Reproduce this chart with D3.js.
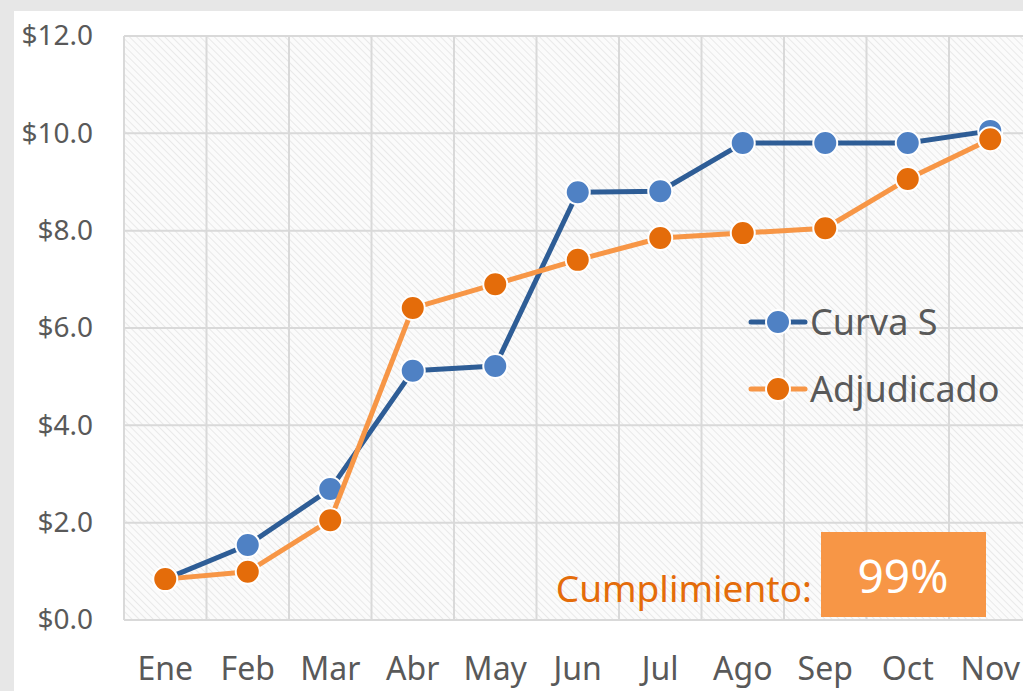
<!DOCTYPE html>
<html>
<head>
<meta charset="utf-8">
<script src="https://cdn.jsdelivr.net/npm/d3@7"></script>
<style>
  body { margin: 0; background: #e7e7e7; overflow: hidden; }
  svg { display: block; font-family: "Noto Sans", "Open Sans", sans-serif; }
</style>
</head>
<body>
<svg id="chart" width="1023" height="691"></svg>
<script>
// months
const months = ['Ene','Feb','Mar','Abr','May','Jun','Jul','Ago','Sep','Oct','Nov'];
// Curva S (planned)
const curvaS = [0.84, 1.54, 2.69, 5.12, 5.22, 8.79, 8.81, 9.80, 9.80, 9.80, 10.05];
// Adjudicado
const adjudicado = [0.84, 0.99, 2.05, 6.41, 6.90, 7.40, 7.85, 7.95, 8.05, 9.06, 9.88];
const yTicks = [0, 2, 4, 6, 8, 10, 12];
const cumplimiento = '99%';

const svg = d3.select('#chart');
const W = 1023, H = 691;
const m = {left: 124, top: 36, bottom: 620};
const right = 124 + 11 * 82.5;

// white chart area
svg.append('rect').attr('x', 14).attr('y', 11).attr('width', W).attr('height', H)
  .attr('fill', '#fff');

const defs = svg.append('defs');
const pat = defs.append('pattern').attr('id', 'hatch')
  .attr('width', 5).attr('height', 5)
  .attr('patternUnits', 'userSpaceOnUse')
  .attr('patternTransform', 'rotate(-45)');
pat.append('rect').attr('width', 5).attr('height', 5).attr('fill', '#fbfbfb');
pat.append('line').attr('x1', 0).attr('y1', 0).attr('x2', 0).attr('y2', 5)
  .attr('stroke', '#e9e9e9').attr('stroke-width', 2);

const x = d3.scaleBand().domain(months).range([m.left, right]);
const y = d3.scaleLinear().domain([0, 12]).range([m.bottom, m.top]);

svg.append('rect').attr('x', m.left).attr('y', m.top)
  .attr('width', right - m.left).attr('height', m.bottom - m.top)
  .attr('fill', 'url(#hatch)');

// grid
const grid = svg.append('g').attr('stroke', '#d9d9d9').attr('stroke-width', 2);
grid.selectAll('.h').data(yTicks).join('line')
  .attr('x1', m.left).attr('x2', right)
  .attr('y1', d => y(d)).attr('y2', d => y(d));
grid.selectAll('.v').data(months.concat(['end'])).join('line')
  .attr('x1', (d, i) => m.left + i * x.bandwidth())
  .attr('x2', (d, i) => m.left + i * x.bandwidth())
  .attr('y1', m.top).attr('y2', m.bottom);

// y axis labels
const yAxis = svg.append('g').attr('transform', `translate(${m.left - 31},0)`)
  .call(d3.axisLeft(y).tickValues(yTicks).tickSize(0).tickPadding(0)
    .tickFormat(d => '$' + d.toFixed(1)));
yAxis.select('.domain').remove();
yAxis.selectAll('text').attr('fill', '#595959').attr('font-size', 28)
  .attr('font-family', '"Noto Sans", sans-serif');

// x axis labels
const xAxis = svg.append('g').attr('transform', `translate(0,${657})`)
  .call(d3.axisBottom(x).tickSize(0).tickPadding(0));
xAxis.select('.domain').remove();
xAxis.selectAll('text').attr('fill', '#595959').attr('font-size', 32)
  .attr('font-family', '"Noto Sans", sans-serif');

const cx = d => x(d) + x.bandwidth() / 2;
const line = d3.line().x((d, i) => cx(months[i])).y(d => y(d));

const series = [
  {name: 'Curva S', values: curvaS, line: '#2e5d96', dot: '#4f81c4'},
  {name: 'Adjudicado', values: adjudicado, line: '#f79646', dot: '#e46c0a'}
];

series.forEach(s => {
  svg.append('path').datum(s.values).attr('d', line)
    .attr('fill', 'none').attr('stroke', s.line).attr('stroke-width', 5)
    .attr('stroke-linejoin', 'round');
  svg.append('g').selectAll('circle').data(s.values).join('circle')
    .attr('cx', (d, i) => cx(months[i])).attr('cy', d => y(d))
    .attr('r', 12).attr('fill', s.dot)
    .attr('stroke', '#fff').attr('stroke-width', 2);
});

// legend
const leg = svg.append('g');
series.forEach((s, i) => {
  const ly = 322 + i * 67;
  leg.append('line').attr('x1', 751).attr('x2', 805).attr('y1', ly).attr('y2', ly)
    .attr('stroke', s.line).attr('stroke-width', 5).attr('stroke-linecap', 'round');
  leg.append('circle').attr('cx', 778).attr('cy', ly).attr('r', 12)
    .attr('fill', s.dot).attr('stroke', '#fff').attr('stroke-width', 2);
  leg.append('text').attr('x', 810).attr('y', ly + 13)
    .attr('font-size', 36).attr('fill', '#595959').text(s.name);
});

// cumplimiento box
svg.append('text').attr('x', 812).attr('y', 602).attr('text-anchor', 'end')
  .attr('font-size', 37).attr('fill', '#e46c0a').text('Cumplimiento:');
svg.append('rect').attr('x', 821).attr('y', 532).attr('width', 165).attr('height', 85)
  .attr('fill', '#f79646');
svg.append('text').attr('x', 903).attr('y', 593).attr('text-anchor', 'middle')
  .attr('font-size', 46).attr('fill', '#fff').text(cumplimiento);
</script>
</body>
</html>
